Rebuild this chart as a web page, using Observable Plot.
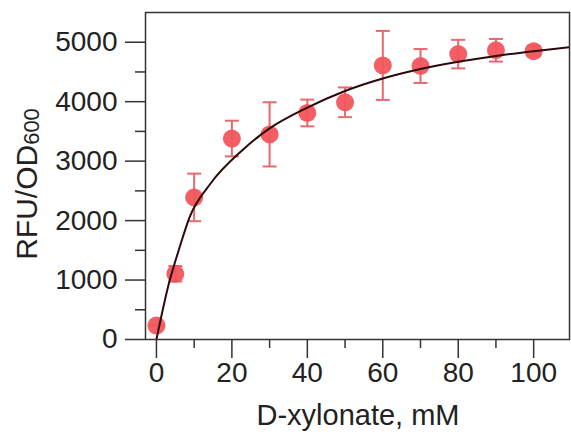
<!DOCTYPE html>
<html>
<head>
<meta charset="utf-8">
<script src="https://cdn.jsdelivr.net/npm/d3@7"></script>
<script src="https://cdn.jsdelivr.net/npm/@observablehq/plot@0.6"></script>
<style>
  body { margin: 0; background: #fff; }
  svg { display: block; }
</style>
</head>
<body>
<div id="chart"></div>
<script>
// Measured data: D-xylonate concentration (mM), mean RFU/OD600, error (±)
const conc = [0, 5, 10, 20, 30, 40, 50, 60, 70, 80, 90, 100];
const meanRFU = [235, 1105, 2390, 3380, 3450, 3810, 3990, 4610, 4600, 4800, 4865, 4850];
const errRFU = [0, 130, 400, 300, 540, 225, 250, 580, 285, 240, 190, 80];

// Fitted curve
const curveX = [0, 3.3, 5.9, 8.8, 14.3, 22.7, 30, 40, 50, 60, 70, 80, 90, 100, 110];
const curveY = [0, 940, 1500, 2060, 2620, 3180, 3550, 3900, 4180, 4390, 4550, 4670, 4770, 4850, 4920];

// Tick values
const xMajor = [0, 20, 40, 60, 80, 100];
const xMinor = [10, 30, 50, 70, 90];
const yMajor = [0, 1000, 2000, 3000, 4000, 5000];
const yMinor = [500, 1500, 2500, 3500, 4500];

const points = conc.map((c, i) => ({x: c, y: meanRFU[i], lo: meanRFU[i] - errRFU[i], hi: meanRFU[i] + errRFU[i]}));
const fit = curveX.map((c, i) => ({x: c, y: curveY[i]}));

const capSymbol = {
  draw(context) {
    context.moveTo(-7, 0);
    context.lineTo(7, 0);
  }
};

const ink = "#222";
const dotColor = "#f2565c";
const errColor = "#e46a6e";

const chart = Plot.plot({
  width: 571,
  height: 437,
  marginLeft: 145,
  marginRight: 2,
  marginTop: 12,
  marginBottom: 98,
  style: {fontFamily: "'Liberation Sans', Arial, Helvetica, sans-serif", color: ink, background: "#fff"},
  x: {domain: [-2.9, 109.5]},
  y: {domain: [0, 5500]},
  marks: [
    Plot.ruleX(points, {x: "x", y1: "lo", y2: "hi", stroke: errColor, strokeWidth: 2}),
    Plot.dot(points, {x: "x", y: "lo", symbol: capSymbol, stroke: errColor, strokeWidth: 2, r: 7}),
    Plot.dot(points, {x: "x", y: "hi", symbol: capSymbol, stroke: errColor, strokeWidth: 2, r: 7}),
    Plot.dot(points, {x: "x", y: "y", r: 9, fill: dotColor, fillOpacity: 0.95, stroke: "none"}),
    Plot.line(fit, {x: "x", y: "y", stroke: "#2e080a", strokeWidth: 2, curve: "monotone-x", clip: true}),
    Plot.frame({stroke: "#333", strokeWidth: 1.5}),
    Plot.axisY(yMajor, {tickSize: 20, tickPadding: 8, fontSize: 28, stroke: "#333", strokeWidth: 1.5, label: null, tickFormat: d => String(d)}),
    Plot.axisY(yMinor, {tickSize: 10, text: null, stroke: "#333", strokeWidth: 1.5, label: null}),
    Plot.axisX(xMajor, {tickSize: 19, tickPadding: 4, fontSize: 28, stroke: "#333", strokeWidth: 1.5, label: null, tickFormat: d => String(d)}),
    Plot.axisX(xMinor, {tickSize: 9, text: null, stroke: "#333", strokeWidth: 1.5, label: null})
  ]
});

const svg = d3.select(chart);
svg.append("text")
  .attr("x", 358)
  .attr("y", 425)
  .attr("text-anchor", "middle")
  .attr("font-size", 29)
  .attr("fill", ink)
  .attr("font-family", "'Liberation Sans', Arial, sans-serif")
  .text("D-xylonate, mM");

const yl = svg.append("text")
  .attr("transform", "translate(37,184) rotate(-90)")
  .attr("text-anchor", "middle")
  .attr("font-size", 30)
  .attr("fill", ink)
  .attr("font-family", "'Liberation Sans', Arial, sans-serif");
yl.append("tspan").text("RFU/OD");
yl.append("tspan").attr("font-size", 22).attr("dy", 2).text("600");

document.getElementById("chart").appendChild(chart);
</script>
</body>
</html>
